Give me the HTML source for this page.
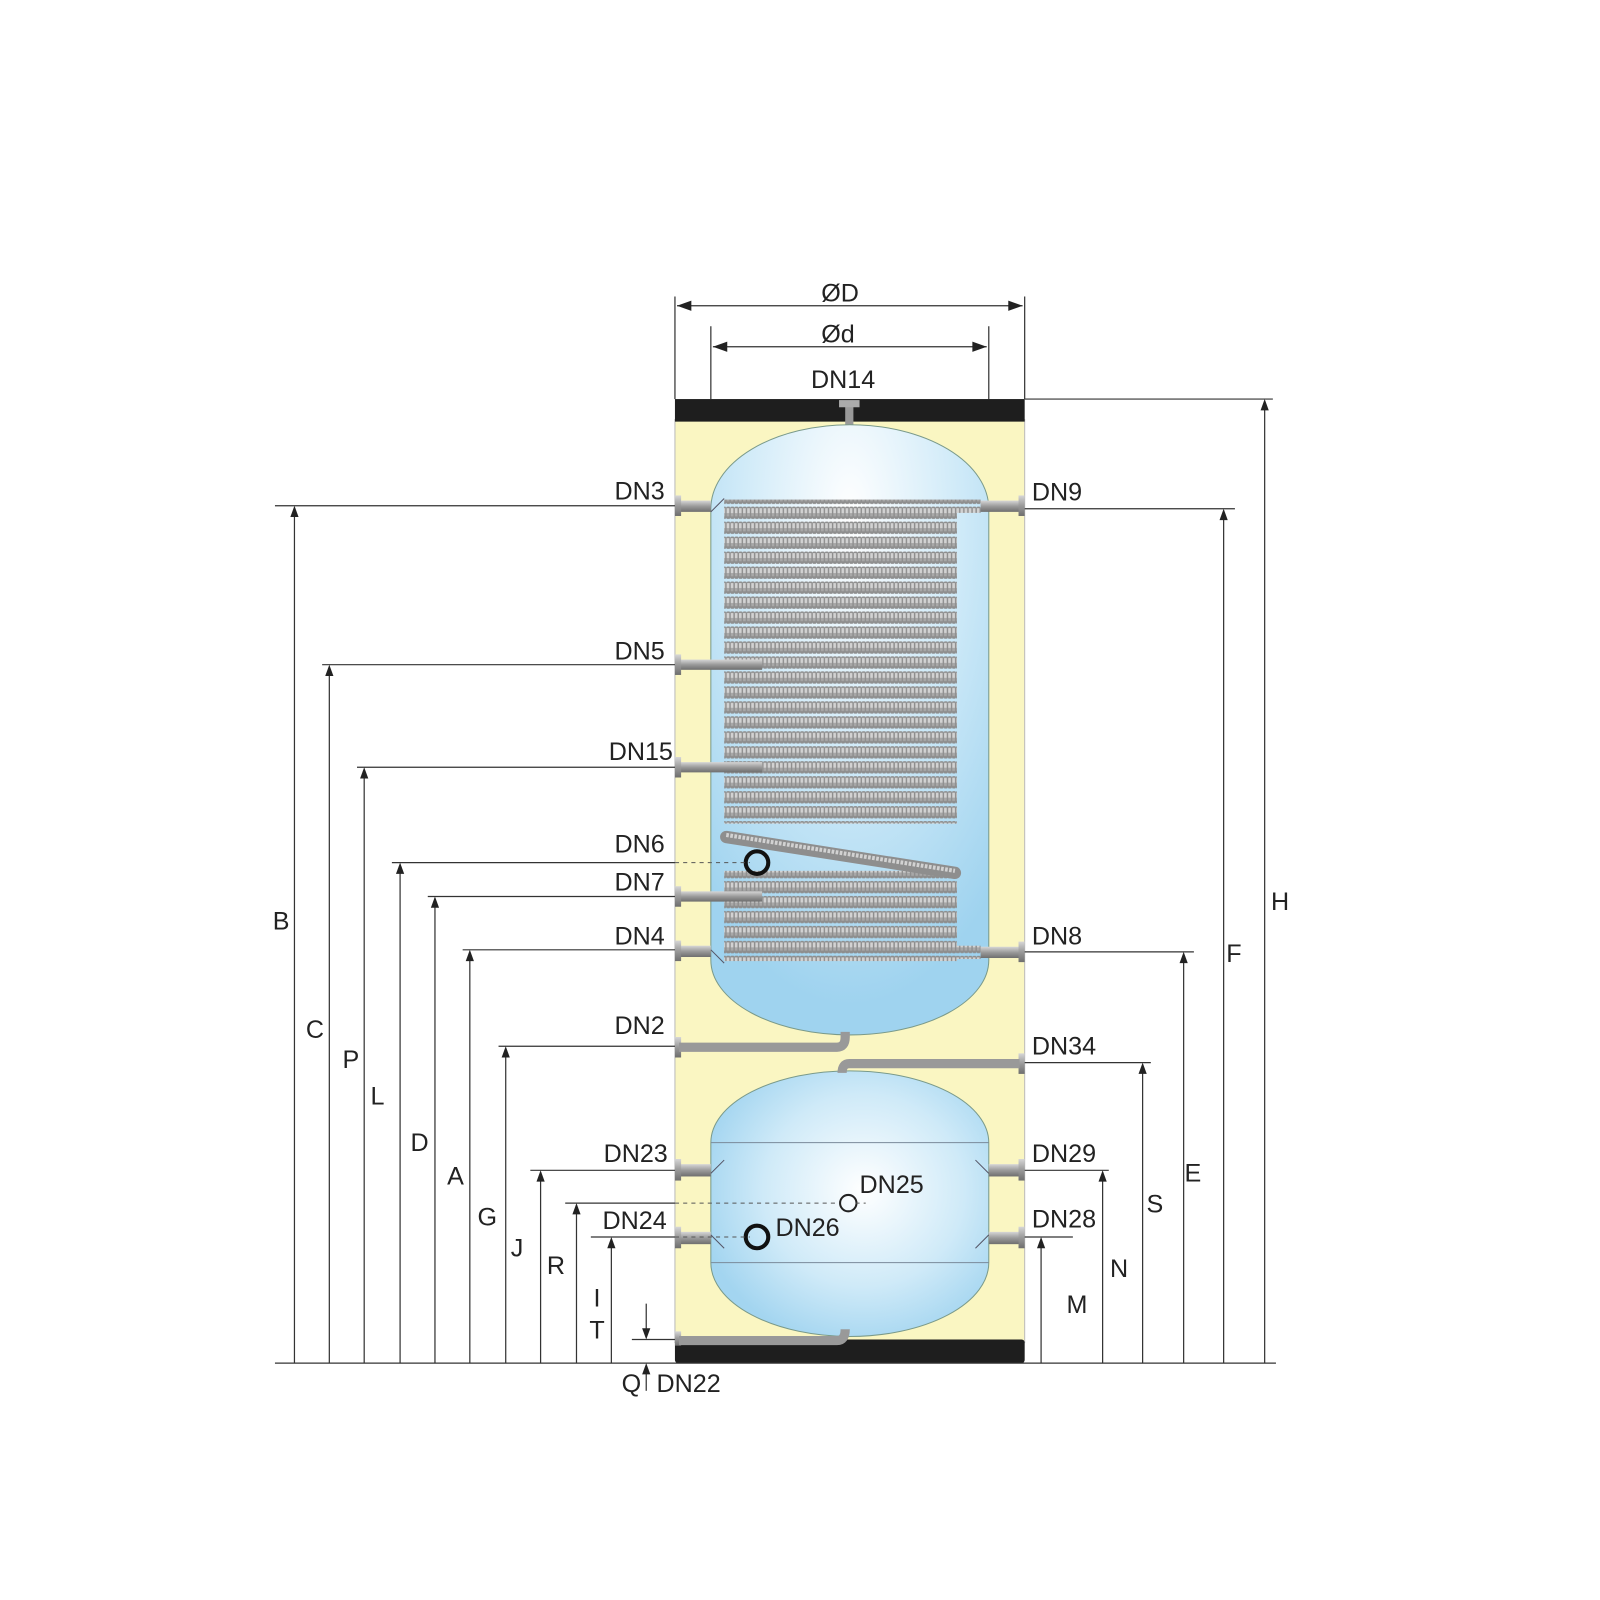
<!DOCTYPE html>
<html><head><meta charset="utf-8"><style>
html,body{margin:0;padding:0;background:#fff;}
svg{display:block;}
text{font-family:"Liberation Sans",sans-serif;font-size:24.5px;fill:#222;}
</style></head><body>
<svg width="1600" height="1600" viewBox="0 0 1600 1600" xmlns="http://www.w3.org/2000/svg">
<defs>
<radialGradient id="bl" cx="0.5" cy="0.15" r="0.8">
<stop offset="0" stop-color="#ffffff"/><stop offset="0.5" stop-color="#cfeaf8"/><stop offset="1" stop-color="#9fd3ef"/>
</radialGradient>
<radialGradient id="bl2" cx="0.55" cy="0.45" r="0.6">
<stop offset="0" stop-color="#ffffff"/><stop offset="0.6" stop-color="#cfeaf8"/><stop offset="1" stop-color="#a3d5f0"/>
</radialGradient>
<linearGradient id="pipe" x1="0" y1="0" x2="0" y2="1">
<stop offset="0" stop-color="#d6d6d6"/><stop offset="0.5" stop-color="#9a9a9a"/><stop offset="1" stop-color="#6e6e6e"/>
</linearGradient>
<pattern id="coil" x="0" y="0" width="4" height="14.6" patternUnits="userSpaceOnUse">
<rect x="0" y="1.5" width="4" height="12" rx="1.5" fill="#8e8e8e"/>
<rect x="0.4" y="3" width="2.6" height="5" fill="#d2d2d2"/>
<rect x="0.4" y="8" width="2.6" height="3" fill="#a8a8a8"/>
</pattern>
</defs>
<g transform="translate(-4,-4) scale(1.0256)">
<rect x="662" y="413" width="341" height="900" fill="#faf6c2" stroke="#bbb" stroke-width="1"/>
<rect x="662" y="393" width="341" height="22" fill="#1e1e1e"/>
<rect x="662" y="1310" width="341" height="23" rx="3" fill="#1e1e1e"/>
<rect x="828" y="398" width="8" height="22" fill="#999"/>
<rect x="822" y="394" width="20" height="7" fill="#aaa"/>
<path d="M697,500 A135.5,82 0 0 1 968,500 L968,940 A135.5,73 0 0 1 697,940 Z" fill="url(#bl)" stroke="#7a9a8a" stroke-width="1"/>
<path d="M697,1118 A135.5,70 0 0 1 968,1118 L968,1235 A135.5,72 0 0 1 697,1235 Z" fill="url(#bl2)" stroke="#7a9a8a" stroke-width="1"/>
<line x1="697" y1="1118" x2="968" y2="1118" stroke="#7a8a9a" stroke-width="1"/>
<line x1="697" y1="1235" x2="968" y2="1235" stroke="#7a8a9a" stroke-width="1"/>
<rect x="710" y="500" width="227" height="307" fill="url(#coil)"/>
<rect x="710" y="853" width="227" height="88" fill="url(#coil)"/>
<rect x="710" y="491" width="250" height="13" fill="url(#coil)"/>
<line x1="712" y1="820" x2="935" y2="855" stroke="#8e8e8e" stroke-width="12" stroke-linecap="round"/>
<line x1="712" y1="818" x2="935" y2="853" stroke="#d2d2d2" stroke-width="4" stroke-dasharray="2.6 1.4"/>
<rect x="710" y="926" width="250" height="13" fill="url(#coil)"/>
<g fill="url(#pipe)">
<rect x="665" y="492" width="32" height="11"/><rect x="662" y="487" width="6" height="20"/>
<rect x="665" y="647" width="82" height="10"/><rect x="662" y="642" width="6" height="20"/>
<rect x="665" y="747" width="82" height="10"/><rect x="662" y="742" width="6" height="20"/>
<rect x="665" y="873" width="82" height="10"/><rect x="662" y="868" width="6" height="20"/>
<rect x="665" y="926" width="32" height="11"/><rect x="662" y="921" width="6" height="20"/>
<rect x="665" y="1139" width="32" height="12"/><rect x="662" y="1134" width="6" height="21"/>
<rect x="665" y="1205" width="32" height="12"/><rect x="662" y="1200" width="6" height="21"/>
<rect x="960" y="492" width="38" height="11"/><rect x="997" y="487" width="6" height="20"/>
<rect x="960" y="927" width="38" height="11"/><rect x="997" y="922" width="6" height="20"/>
<rect x="968" y="1139" width="30" height="12"/><rect x="997" y="1134" width="6" height="21"/>
<rect x="968" y="1205" width="30" height="12"/><rect x="997" y="1200" width="6" height="21"/>
<rect x="662" y="1015" width="6" height="20"/>
<rect x="997" y="1031" width="6" height="20"/>
<rect x="662" y="1302" width="6" height="14"/>
</g>
<path d="M666,1025 L820,1025 Q828,1025 828,1015 L828,1010" fill="none" stroke="#999" stroke-width="9"/>
<path d="M998,1041 L832,1041 Q825,1041 825,1050" fill="none" stroke="#999" stroke-width="9"/>
<path d="M666,1311 L820,1311 Q828,1311 828,1300" fill="none" stroke="#999" stroke-width="9"/>
<g stroke="#556" stroke-width="1">
<line x1="697" y1="503" x2="710" y2="490"/><line x1="697" y1="930" x2="710" y2="943"/>
<line x1="697" y1="1148" x2="710" y2="1135"/><line x1="697" y1="1208" x2="710" y2="1221"/>
<line x1="968" y1="1148" x2="955" y2="1135"/><line x1="968" y1="1208" x2="955" y2="1221"/>
</g>
<circle cx="742" cy="845" r="11" fill="none" stroke="#111" stroke-width="4"/>
<circle cx="742" cy="1210" r="11" fill="none" stroke="#111" stroke-width="4"/>
<circle cx="831" cy="1177" r="8" fill="none" stroke="#222" stroke-width="2"/>
<g stroke="#333" stroke-width="1.2" fill="none">
<line x1="272" y1="1333" x2="1248" y2="1333"/>
<line x1="662" y1="293" x2="662" y2="393"/><line x1="1003" y1="293" x2="1003" y2="393"/>
<line x1="697" y1="322" x2="697" y2="393"/><line x1="968" y1="322" x2="968" y2="393"/>
<line x1="664" y1="302" x2="1001" y2="302"/>
<line x1="699" y1="342" x2="966" y2="342"/>
<line x1="272" y1="497" x2="662" y2="497"/><line x1="291" y1="499" x2="291" y2="1333"/>
<line x1="318" y1="652" x2="662" y2="652"/><line x1="325" y1="654" x2="325" y2="1333"/>
<line x1="352" y1="752" x2="662" y2="752"/><line x1="359" y1="754" x2="359" y2="1333"/>
<line x1="386" y1="845" x2="662" y2="845"/><line x1="394" y1="847" x2="394" y2="1333"/>
<line x1="421" y1="878" x2="662" y2="878"/><line x1="428" y1="880" x2="428" y2="1333"/>
<line x1="455" y1="930" x2="662" y2="930"/><line x1="462" y1="932" x2="462" y2="1333"/>
<line x1="490" y1="1024" x2="662" y2="1024"/><line x1="497" y1="1026" x2="497" y2="1333"/>
<line x1="521" y1="1145" x2="662" y2="1145"/><line x1="531" y1="1147" x2="531" y2="1333"/>
<line x1="580" y1="1210" x2="662" y2="1210"/><line x1="600" y1="1212" x2="600" y2="1333"/>
<line x1="566" y1="1179" x2="566" y2="1333"/>
<line x1="555" y1="1177" x2="662" y2="1177"/>
<line x1="620" y1="1310" x2="662" y2="1310"/>
<line x1="634" y1="1275" x2="634" y2="1308"/>
<line x1="634" y1="1335" x2="634" y2="1360"/>
<line x1="1003" y1="393" x2="1245" y2="393"/><line x1="1237" y1="395" x2="1237" y2="1333"/>
<line x1="1003" y1="500" x2="1208" y2="500"/><line x1="1197" y1="502" x2="1197" y2="1333"/>
<line x1="1003" y1="932" x2="1168" y2="932"/><line x1="1158" y1="934" x2="1158" y2="1333"/>
<line x1="1003" y1="1040" x2="1126" y2="1040"/><line x1="1118" y1="1042" x2="1118" y2="1333"/>
<line x1="1003" y1="1145" x2="1085" y2="1145"/><line x1="1079" y1="1147" x2="1079" y2="1333"/>
<line x1="1003" y1="1210" x2="1050" y2="1210"/><line x1="1019" y1="1212" x2="1019" y2="1333"/>
</g>
<g stroke="#555" stroke-width="1" stroke-dasharray="4 4">
<line x1="662" y1="845" x2="735" y2="845"/>
<line x1="662" y1="1177" x2="822" y2="1177"/><line x1="838" y1="1177" x2="848" y2="1177"/>
<line x1="662" y1="1210" x2="735" y2="1210"/>
</g>
<g fill="#222">
<path d="M664,302 l14,-5 l0,10z"/><path d="M1001,302 l-14,-5 l0,10z"/>
<path d="M699,342 l14,-5 l0,10z"/><path d="M966,342 l-14,-5 l0,10z"/>
<path d="M291,497 l-4,11 l8,0z"/><path d="M325,652 l-4,11 l8,0z"/><path d="M359,752 l-4,11 l8,0z"/>
<path d="M394,845 l-4,11 l8,0z"/><path d="M428,878 l-4,11 l8,0z"/><path d="M462,930 l-4,11 l8,0z"/>
<path d="M497,1024 l-4,11 l8,0z"/><path d="M531,1145 l-4,11 l8,0z"/><path d="M566,1177 l-4,11 l8,0z"/>
<path d="M600,1210 l-4,11 l8,0z"/>
<path d="M634,1310 l-4,-11 l8,0z"/><path d="M634,1333 l-4,11 l8,0z"/>
<path d="M1237,393 l-4,11 l8,0z"/><path d="M1197,500 l-4,11 l8,0z"/><path d="M1158,932 l-4,11 l8,0z"/>
<path d="M1118,1040 l-4,11 l8,0z"/><path d="M1079,1145 l-4,11 l8,0z"/><path d="M1019,1210 l-4,11 l8,0z"/>
</g>
<text x="823" y="298" text-anchor="middle">ØD</text>
<text x="821" y="338" text-anchor="middle">Ød</text>
<text x="826" y="382" text-anchor="middle">DN14</text>
<g text-anchor="end">
<text x="652" y="491">DN3</text>
<text x="652" y="647">DN5</text>
<text x="660" y="745">DN15</text>
<text x="652" y="835">DN6</text>
<text x="652" y="872">DN7</text>
<text x="652" y="925">DN4</text>
<text x="652" y="1012">DN2</text>
<text x="655" y="1137">DN23</text>
<text x="654" y="1202">DN24</text>
</g>
<text x="1010" y="492">DN9</text>
<text x="1010" y="925">DN8</text>
<text x="1010" y="1032">DN34</text>
<text x="1010" y="1137">DN29</text>
<text x="1010" y="1201">DN28</text>
<text x="842" y="1167">DN25</text>
<text x="760" y="1209">DN26</text>
<text x="644" y="1361">DN22</text>
<text x="610" y="1361">Q</text>
<g text-anchor="middle">
<text x="278" y="910">B</text><text x="311" y="1016">C</text><text x="346" y="1045">P</text>
<text x="372" y="1081">L</text><text x="413" y="1126">D</text><text x="448" y="1159">A</text>
<text x="479" y="1199">G</text><text x="508" y="1229">J</text><text x="546" y="1246">R</text>
<text x="586" y="1278">I</text><text x="586" y="1309">T</text>
<text x="1252" y="891">H</text><text x="1207" y="942">F</text><text x="1167" y="1156">E</text>
<text x="1130" y="1186">S</text><text x="1095" y="1249">N</text><text x="1054" y="1284">M</text>
</g>
</g>
</svg>
</body></html>
